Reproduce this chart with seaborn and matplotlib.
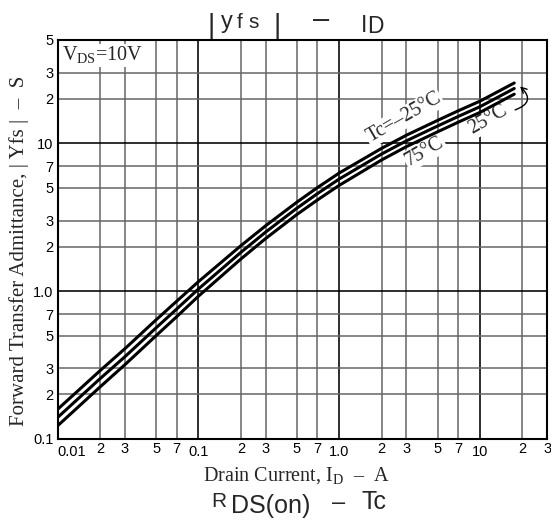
import matplotlib
matplotlib.use("Agg")
import matplotlib.pyplot as plt
import pandas as pd
import seaborn as sns
from matplotlib.ticker import FixedLocator, FixedFormatter

# curves (|yfs| in S vs drain current in A)
drain_current = [0.01, 0.02, 0.03, 0.05, 0.07, 0.1, 0.2, 0.3, 0.5, 0.7,
                 1.0, 2.0, 3.0, 5.0, 7.0, 10.0, 17.5]
yfs_m25 = [0.159, 0.29, 0.408, 0.64, 0.855, 1.16, 2.03, 2.77, 4.0, 5.02,
           6.3, 9.25, 11.35, 14.3, 16.6, 19.3, 25.6]
yfs_25 = [0.14, 0.256, 0.36, 0.565, 0.757, 1.035, 1.83, 2.51, 3.64, 4.57,
          5.74, 8.47, 10.4, 13.1, 15.2, 17.7, 23.5]
yfs_75 = [0.123, 0.225, 0.318, 0.50, 0.672, 0.925, 1.65, 2.27, 3.3, 4.14,
          5.2, 7.72, 9.5, 11.97, 13.9, 16.2, 21.5]
temps = ["-25", "25", "75"]

x_major = [0.01, 0.1, 1.0, 10]
x_major_labels = ["0.01", "0.1", "1.0", "10"]
x_minor = [0.02, 0.03, 0.05, 0.07, 0.2, 0.3, 0.5, 0.7, 2, 3, 5, 7, 20, 30]
x_minor_labels = ["2", "3", "5", "7"] * 3 + ["2", "3"]
y_major = [0.1, 1.0, 10]
y_major_labels = ["0.1", "1.0", "10"]
y_minor = [0.2, 0.3, 0.5, 0.7, 2, 3, 5, 7, 20, 30, 50]
y_minor_labels = ["2", "3", "5", "7"] * 2 + ["2", "3", "5"]

sns.set_style("white")
plt.rcParams["font.family"] = ["Liberation Sans", "DejaVu Sans"]
plt.rcParams["mathtext.fontset"] = "custom"
plt.rcParams["mathtext.rm"] = "Liberation Serif"
SERIF = ["Liberation Serif", "DejaVu Serif"]

df = pd.DataFrame({
    "Id": drain_current * 3,
    "yfs": yfs_m25 + yfs_25 + yfs_75,
    "Tc": [t for t in temps for _ in drain_current],
})

W, H = 551, 520
fig = plt.figure(figsize=(W / 100, H / 100), dpi=100)
ax = fig.add_axes([57.7 / W, 1 - 439 / H, (547.2 - 57.7) / W, (439 - 40) / H])

sns.lineplot(data=df, x="Id", y="yfs", hue="Tc", palette=["black"] * 3,
             linewidth=2.2, legend=False, ax=ax, zorder=3)

ax.set_xscale("log")
ax.set_yscale("log")
ax.set_xlim(0.01, 30)
ax.set_ylim(0.1, 50)

ax.xaxis.set_major_locator(FixedLocator(x_major))
ax.xaxis.set_major_formatter(FixedFormatter(x_major_labels))
ax.xaxis.set_minor_locator(FixedLocator(x_minor))
ax.xaxis.set_minor_formatter(FixedFormatter(x_minor_labels))
ax.yaxis.set_major_locator(FixedLocator(y_major))
ax.yaxis.set_major_formatter(FixedFormatter(y_major_labels))
ax.yaxis.set_minor_locator(FixedLocator(y_minor))
ax.yaxis.set_minor_formatter(FixedFormatter(y_minor_labels))

ax.tick_params(which="both", length=0, labelsize=10.5, colors="black")
ax.tick_params(axis="x", which="minor", pad=2)
ax.tick_params(axis="x", which="major", pad=4.5)
ax.tick_params(axis="y", which="both", pad=3)
ax.get_xticklabels()[0].set_horizontalalignment("left")

ax.set_axisbelow(True)
ax.grid(which="major", color="black", linewidth=1.15)
ax.grid(which="minor", color="#666666", linewidth=1.1)
for s in ax.spines.values():
    s.set_color("black")
    s.set_linewidth(1.5)
ax.set_xlabel("")
ax.set_ylabel("")

box = dict(facecolor="white", edgecolor="none", pad=0.8)
ax.text(2.88, 14.9, "Tc=–25°C", rotation=30, ha="center", va="center",
        fontsize=14.5, family=SERIF, bbox=box, zorder=2)
ax.text(4.06, 8.75, "75°C", rotation=30, ha="center", va="center",
        fontsize=14.5, family=SERIF, bbox=box, zorder=2)
ax.text(11.4, 14.4, "25°C", rotation=30, ha="center", va="center",
        fontsize=14.5, family=SERIF, bbox=box, zorder=2)
ax.annotate("", xy=(18.6, 25.0), xytext=(17.0, 16.6),
            arrowprops=dict(arrowstyle="->", color="black", lw=1.0,
                            connectionstyle="arc3,rad=0.9"), zorder=4)
ax.text(0.009, 0.988, r"V$_{\rm DS}$=10V", transform=ax.transAxes,
        ha="left", va="top", fontsize=14.5, family=SERIF, bbox=box, zorder=2)


def px_text(x, y, s, **kw):
    fig.text(x / W, 1 - y / H, s, **kw)


# axis titles
px_text(296, 476, r"Drain Current, I$_{\rm D}$  –  A", ha="center",
        va="center", fontsize=14.5, family=SERIF)
px_text(19, 251, "Forward Transfer Admittance, | Yfs |  –  S", ha="center",
        va="center", rotation=90, fontsize=15, family=SERIF)

# chart title pieces
px_text(207, 33, "|", fontsize=20, va="baseline")
px_text(221, 28, "y", fontsize=17, va="baseline")
px_text(237, 28, "f", fontsize=15, va="baseline")
px_text(248, 28, "s", fontsize=15, va="baseline")
px_text(274, 33, "|", fontsize=20, va="baseline")
px_text(313, 28, "–", fontsize=21, va="baseline")
px_text(361, 32, "I", fontsize=16.5, va="baseline")
px_text(367, 33, "D", fontsize=16.5, va="baseline")

# next chart's title, cut at the bottom
px_text(211, 507, "R", fontsize=15, va="baseline")
px_text(231, 513, "DS(on)", fontsize=18, va="baseline")
px_text(332, 509, "–", fontsize=17, va="baseline")
px_text(362, 509, "Tc", fontsize=18, va="baseline")

fig.savefig("out.png", dpi=100)
